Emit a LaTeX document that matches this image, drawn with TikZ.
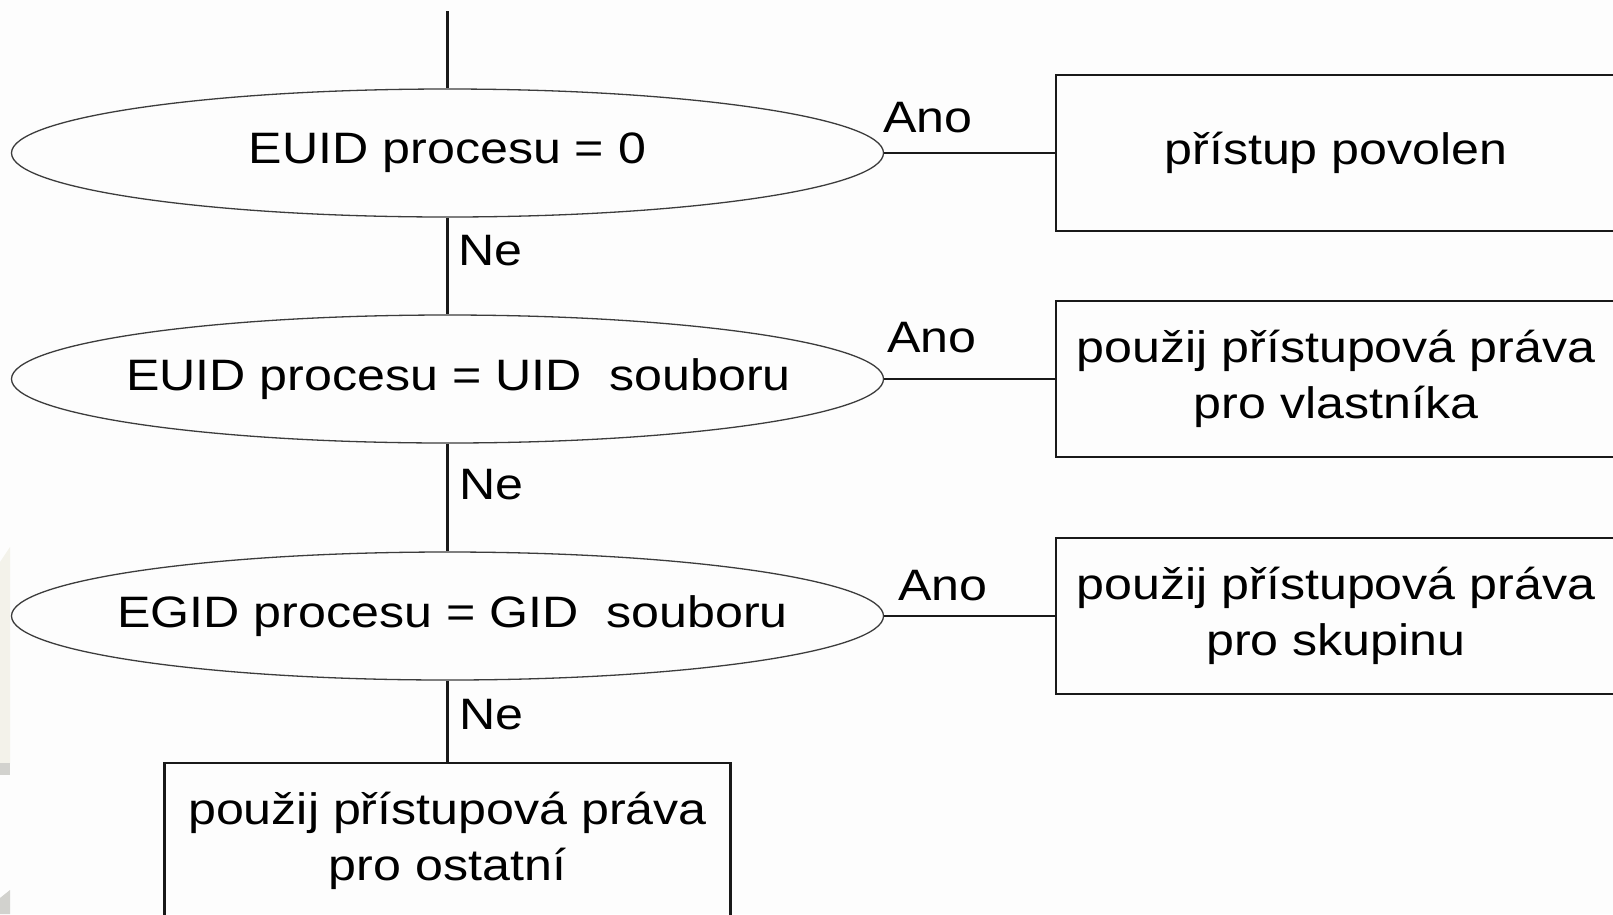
\documentclass[tikz,border=0pt]{standalone}
\usepackage{fontspec}
\setmainfont[FakeStretch=1.14]{Liberation Sans}
\usetikzlibrary{shapes.geometric}
\definecolor{bgcol}{RGB}{253,253,253}
\definecolor{beige}{RGB}{243,242,234}
\definecolor{pale}{RGB}{210,210,206}
\definecolor{ink}{RGB}{25,25,25}
\newcommand{\zbox}[1]{\makebox[0pt]{#1}}
\begin{document}
\begin{tikzpicture}[x=1pt,y=-1pt,
  txt/.style={font=\fontsize{44}{55.5}\selectfont},
  decision/.style={ellipse, draw=ink!85, line width=1.3pt, minimum width=872pt, minimum height=128pt, inner sep=0pt, txt},
  action/.style={rectangle, draw=ink, line width=2.7pt, minimum width=560pt, minimum height=156pt, inner sep=0pt, align=center, txt},
  conn/.style={draw=ink, line width=2.5pt},
  lbl/.style={anchor=base west, inner sep=0pt, txt}]
\useasboundingbox (0,0) rectangle (1613,914);
\fill[bgcol] (0,0) rectangle (1613,914);
\clip (0,0) rectangle (1613,914);
\fill[beige] (0,562) -- (10,547) -- (10,763) -- (0,763) -- cycle;
\fill[pale] (0,763) rectangle (10,775);
\fill[pale] (0,898) -- (10,890) -- (10,914) -- (0,914) -- cycle;

\coordinate (top) at (447.5,11);
\node[decision] (d1) at (447.5,153) {\zbox{EUID procesu = 0}};
\node[decision] (d2) at (447.5,379) {\zbox{\hspace{22pt}EUID procesu = UID\ \ souboru}};
\node[decision] (d3) at (447.5,616) {\zbox{\hspace{10pt}EGID procesu = GID\ \ souboru}};
\node[action] (a1) at (1336,153) {přístup povolen};
\node[action] (a2) at (1336,379) {použij přístupová práva\\pro vlastníka};
\node[action] (a3) at (1336,616) {použij přístupová práva\\pro skupinu};
\node[action, minimum width=566pt] (a4) at (447.5,841) {použij přístupová práva\\pro ostatní};

\draw[conn] (top) -- (d1.north);
\draw[conn] (d1.south) -- (d2.north);
\draw[conn] (d2.south) -- (d3.north);
\draw[conn] (d3.south) -- (a4.north);
\draw[conn] (d1.east) -- (a1.west);
\draw[conn] (d2.east) -- (a2.west);
\draw[conn] (d3.east) -- (a3.west);

\node[lbl] (l1) at (883,132.7) {Ano};
\node[lbl] (l2) at (887,352) {Ano};
\node[lbl] (l3) at (898,600) {Ano};
\node[lbl] (n1) at (458,265.5) {Ne};
\node[lbl] (n2) at (459,499) {Ne};
\node[lbl] (n3) at (459,729.5) {Ne};
\end{tikzpicture}
\end{document}
